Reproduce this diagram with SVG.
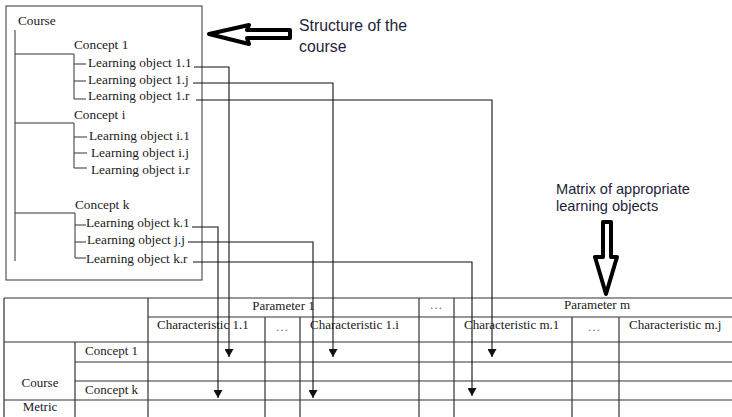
<svg xmlns="http://www.w3.org/2000/svg" width="732" height="417" viewBox="0 0 732 417">
<defs>
<style>
.s{font-family:"Liberation Serif","Times New Roman",serif;font-size:13px;fill:#1a1a1a}
.t{font-size:13.3px}
.m{text-anchor:middle}
.sans{font-family:"Liberation Sans",Arial,sans-serif;font-size:15.8px;fill:#1e1e3a}
.ln{stroke:#333;stroke-width:1;fill:none}
.tb{stroke:#333;stroke-width:1.2;fill:none}
.con{stroke:#111;stroke-width:1.1;fill:none;marker-end:url(#ah)}
.big{fill:#fff;stroke:#000;stroke-width:4;stroke-linejoin:round}
</style>
<marker id="ah" markerWidth="8" markerHeight="9" refX="8" refY="4.5" orient="auto" markerUnits="userSpaceOnUse" viewBox="0 0 8 9">
<path d="M0,0 L8,4.5 L0,9 z" fill="#111"/>
</marker>
</defs>
<rect width="732" height="417" fill="#fff"/>

<g id="structure">
<rect x="6" y="6" width="196" height="274" class="ln"/>
<path class="ln" d="M15,30 V261 M15,54 H74 V99 H86 M74,64 H86 M74,81 H86 M15,123 H74 V168 H87 M74,137 H87 M74,153 H87 M15,213 H75 V258 H86 M75,225 H86 M75,242 H86"/>
<text class="s t" x="18" y="25">Course</text>
<text class="s t" x="74" y="49">Concept 1</text>
<text class="s t" x="88" y="67">Learning object 1.1</text>
<text class="s t" x="88" y="84">Learning object 1.j</text>
<text class="s t" x="88" y="100">Learning object 1.r</text>
<text class="s t" x="74" y="119">Concept i</text>
<text class="s t" x="89" y="140">Learning object i.1</text>
<text class="s t" x="91" y="157">Learning object i.j</text>
<text class="s t" x="91" y="174">Learning object i.r</text>
<text class="s t" x="75" y="209">Concept k</text>
<text class="s t" x="86" y="227">Learning object k.1</text>
<text class="s t" x="87" y="244">Learning object j.j</text>
<text class="s t" x="86" y="263">Learning object k.r</text>
</g>

<g id="label-structure">
<polygon class="big" points="209,34 249,25 247,30 290,30 290,38 247,38 249,44"/>
<text class="sans" x="299" y="31">Structure of the</text>
<text class="sans" x="299" y="52">course</text>
</g>

<g id="label-matrix">
<text class="sans" x="556" y="194" style="font-size:14.6px">Matrix of appropriate</text>
<text class="sans" x="556" y="211" style="font-size:14.6px">learning objects</text>
<polygon class="big" points="603,222 611,222 611,257 617,257 606,294 595,257 603,257"/>
</g>

<g id="matrix">
<path class="tb" d="M4,298 H732 M148,317 H732 M4,342 H732 M75,362 H732 M75,381 H732 M4,400 H732 M4,298 V417 M75,342 V417 M148,298 V417 M265,317 V417 M300,317 V417 M419,298 V417 M454,298 V417 M572,317 V417 M619,317 V417"/>
<text class="s m" x="283.5" y="310">Parameter 1</text>
<text class="s m" x="436" y="309" style="fill:#777">…</text>
<text class="s m" x="597" y="309">Parameter m</text>
<text class="s" x="157" y="329">Characteristic 1.1</text>
<text class="s m" x="282" y="331" style="fill:#777">…</text>
<text class="s" x="310" y="329">Characteristic 1.i</text>
<text class="s" x="464" y="329">Characteristic m.1</text>
<text class="s m" x="594" y="331" style="fill:#777">…</text>
<text class="s" x="629" y="329">Characteristic m.j</text>
<text class="s" x="85" y="355">Concept 1</text>
<text class="s" x="85" y="394">Concept k</text>
<text class="s m" x="40" y="387">Course</text>
<text class="s m" x="40" y="411">Metric</text>
</g>

<g id="connectors">
<path class="con" d="M194,67 H229 V357"/>
<path class="con" d="M193,83 H333 V357"/>
<path class="con" d="M196,100 H492 V357"/>
<path class="con" d="M192,227 H218 V398"/>
<path class="con" d="M188,242 H313 V398"/>
<path class="con" d="M193,262 H472 V396"/>
</g>
</svg>
